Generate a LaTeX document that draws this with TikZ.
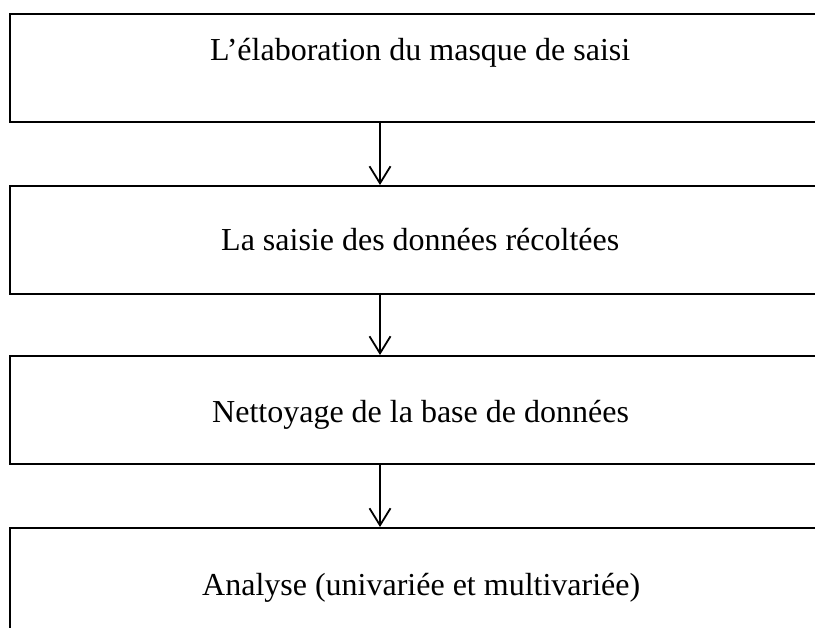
\documentclass[tikz,border=0pt]{standalone}
\usepackage{fontspec}
\setmainfont{Liberation Serif}
\usetikzlibrary{arrows.meta}
\begin{document}
\begin{tikzpicture}[x=1pt,y=-1pt,
  stepbox/.style={draw,line width=2.4pt,minimum width=816pt,minimum height=108pt,inner sep=0pt,anchor=north west},
  label/.style={font=\fontsize{32}{36}\selectfont,inner sep=0pt,anchor=base west},
  flow/.style={line width=1.8pt,-{Straight Barb[length=17pt,width=21pt,line width=1.8pt]}}]
\useasboundingbox (0,0) rectangle (815,628);
\clip (0,0) rectangle (815,628);
\node[stepbox] (b1) at (9,13) {};
\node[stepbox] (b2) at (9,185) {};
\node[stepbox] (b3) at (9,355) {};
\node[stepbox] (b4) at (9,527) {};
\node[label] (t1) at (210,61) {L’élaboration du masque de saisi};
\node[label] (t2) at (221,251) {La saisie des données récoltées};
\node[label] (t3) at (212,423) {Nettoyage de la base de données};
\node[label] (t4) at (202,595) {Analyse (univariée et multivariée)};
\coordinate (a1s) at (380,121);
\coordinate (a2s) at (380,293);
\coordinate (a3s) at (380,464);
\draw[flow] (a1s) -- (a1s |- b2.north);
\draw[flow] (a2s) -- (a2s |- b3.north);
\draw[flow] (a3s) -- (a3s |- b4.north);
\end{tikzpicture}
\end{document}
